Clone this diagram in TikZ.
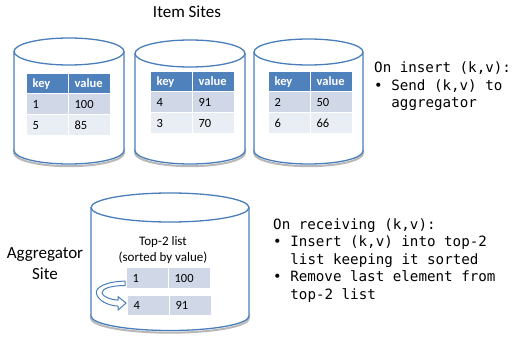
\documentclass[tikz,border=0pt]{standalone}
\usepackage{fontspec}
\setmainfont{Carlito}
\newfontfamily\monof{DejaVu Sans Mono}
\usetikzlibrary{calc}
\definecolor{cylblue}{HTML}{4A7EBB}
\definecolor{hdrblue}{HTML}{4F81BD}
\definecolor{rowa}{HTML}{D0D8E8}
\definecolor{rowb}{HTML}{E9EDF4}
\tikzset{
 cylline/.style={draw=cylblue, line width=1.3pt},
 cylshadow/.style={draw=black!28, line width=2pt},
 cellbase/.style={rectangle, draw=white, line width=1.2pt, anchor=north west, inner xsep=6pt, inner ysep=0pt, text width=30pt, align=left, font=\fontsize{12.5}{14}\selectfont},
 hdr/.style={cellbase, fill=hdrblue, text=white, font=\fontsize{12.5}{14}\selectfont\bfseries},
 rowA/.style={cellbase, fill=rowa},
 rowB/.style={cellbase, fill=rowb},
 mono/.style={font=\monof\fontsize{14.2}{17}\selectfont, anchor=base west, inner sep=0pt},
 bigtitle/.style={font=\fontsize{17}{21}\selectfont, inner sep=0pt},
 blockarrow/.style={draw=cylblue, line width=1pt, fill=white, line join=round},
}
\newcommand\mycyl[5]{% cx rx ytop ry ybot
 \pgfmathsetmacro\cyA{#1-#2}%
 \pgfmathsetmacro\cyB{#1+#2}%
 \pgfmathsetmacro\cyKa{#1-0.5523*#2}%
 \pgfmathsetmacro\cyKb{#1+0.5523*#2}%
 \pgfmathsetmacro\cyD{#5+#4}%
 \pgfmathsetmacro\cyE{#5+0.5523*#4}%
 \draw[cylshadow, shift={(0,2.2)}] (\cyA,#5-4) -- (\cyA,#5) .. controls (\cyA,\cyE) and (\cyKa,\cyD) .. (#1,\cyD) .. controls (\cyKb,\cyD) and (\cyB,\cyE) .. (\cyB,#5) -- (\cyB,#5-4);
 \draw[cylline, fill=white] (\cyA,#3) -- (\cyA,#5) .. controls (\cyA,\cyE) and (\cyKa,\cyD) .. (#1,\cyD) .. controls (\cyKb,\cyD) and (\cyB,\cyE) .. (\cyB,#5) -- (\cyB,#3);
 \draw[cylline, fill=white] (#1,#3) ellipse [x radius=#2, y radius=#4];
}
\begin{document}
\begin{tikzpicture}[x=1pt, y=-1pt]
\useasboundingbox (0,0) rectangle (514,337);
\fill[white] (0,0) rectangle (514,337);

\node[bigtitle] (title) at (187,12) {Item Sites};

% cylinders
\mycyl{69}{55}{51.5}{13.5}{150.5}
\mycyl{190}{55}{53.5}{13.5}{150.5}
\mycyl{308.5}{54.5}{52}{13}{151}
\mycyl{170}{79}{207.5}{14.5}{316}

% table 1
\node[hdr, minimum height=20pt] (t1k) at (26,73) {key};
\node[hdr, minimum height=20pt] (t1v) at (68,73) {value};
\node[rowA, minimum height=21pt] (t1a) at (26,93) {1};
\node[rowA, minimum height=21pt] (t1b) at (68,93) {100};
\node[rowB, minimum height=21pt] (t1c) at (26,114) {5};
\node[rowB, minimum height=21pt] (t1d) at (68,114) {85};

% table 2
\node[hdr, minimum height=20pt] (t2k) at (150,71) {key};
\node[hdr, minimum height=20pt] (t2v) at (192,71) {value};
\node[rowA, minimum height=21pt] (t2a) at (150,91) {4};
\node[rowA, minimum height=21pt] (t2b) at (192,91) {91};
\node[rowB, minimum height=21pt] (t2c) at (150,112) {3};
\node[rowB, minimum height=21pt] (t2d) at (192,112) {70};

% table 3
\node[hdr, minimum height=20pt] (t3k) at (268,71) {key};
\node[hdr, minimum height=20pt] (t3v) at (310,71) {value};
\node[rowA, minimum height=21pt] (t3a) at (268,91) {2};
\node[rowA, minimum height=21pt] (t3b) at (310,91) {50};
\node[rowB, minimum height=21pt] (t3c) at (268,112) {6};
\node[rowB, minimum height=21pt] (t3d) at (310,112) {66};

% right text top
\node[mono] (i1) at (374,73) {On insert (k,v):};
\node[mono] (i2) at (374,90) {• Send (k,v) to};
\node[mono] (i3) at (391.2,107) {aggregator};

% aggregator
\node[bigtitle, align=center] (agg) at (45,263.5) {Aggregator\\Site};
\node[font=\fontsize{13}{16}\selectfont, align=center, inner sep=0pt] (top2) at (163,250) {Top-2 list\\(sorted by value)};
\node[rowA, minimum height=21pt] (a1) at (126,267) {1};
\node[rowA, minimum height=21pt] (a1v) at (168,267) {100};
\node[rowA, minimum height=20pt] (a2) at (127,295) {4};
\node[rowA, minimum height=20pt] (a2v) at (169,295) {91};

\begin{scope}[shift={(a1.west)}]
\draw[blockarrow] (-1,3) .. controls (-21,3.5) and (-31,9.5) .. (-29.5,15.5)
  .. controls (-28,22.5) and (-18,27.5) .. (-8,28) -- (-8,32) -- (0,25) -- (-8,18.5) -- (-8,22)
  .. controls (-16,21.5) and (-23,18.5) .. (-24,15)
  .. controls (-24,10.5) and (-16,7.5) .. (-1,7.5) -- cycle;
\end{scope}

% right text bottom
\node[mono] (r1) at (273,229) {On receiving (k,v):};
\node[mono] (r2) at (273,246.5) {• Insert (k,v) into top-2};
\node[mono] (r3) at (290.2,264) {list keeping it sorted};
\node[mono] (r4) at (273,281.5) {• Remove last element from};
\node[mono] (r5) at (290.2,299) {top-2 list};
\end{tikzpicture}
\end{document}
